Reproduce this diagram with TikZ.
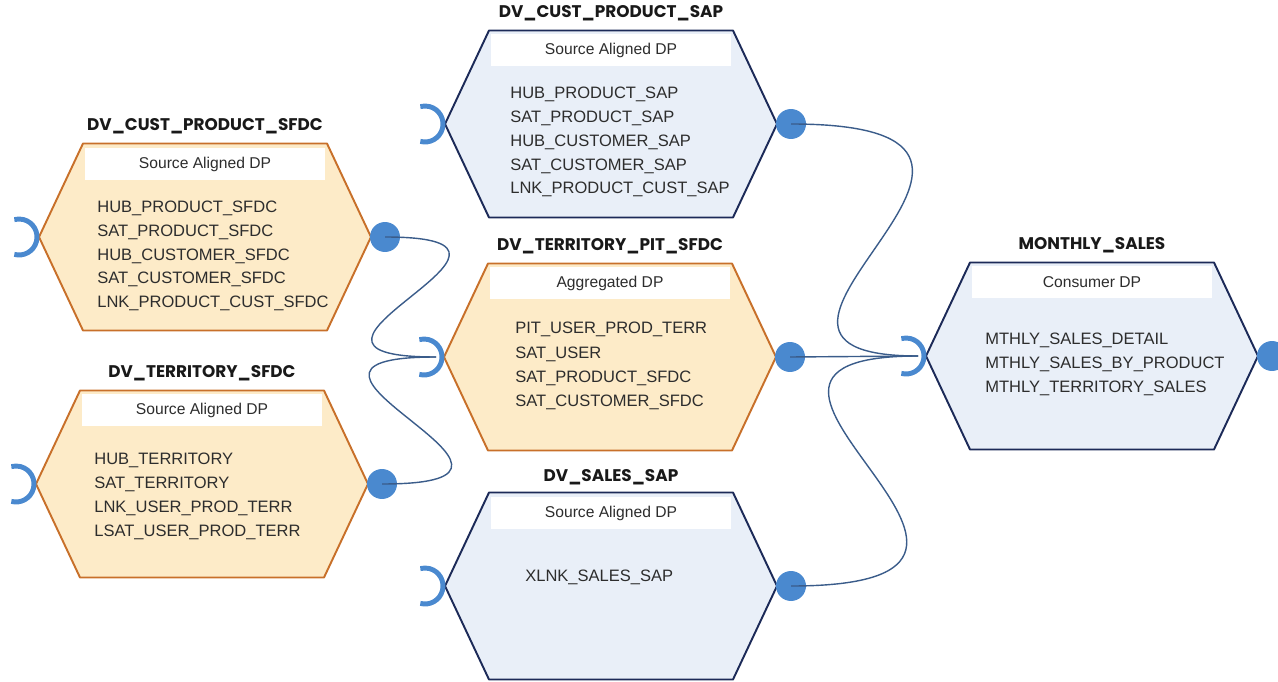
\documentclass[tikz,border=0pt]{standalone}
\usepackage{fontspec}
\setmainfont{Liberation Sans}
\newfontfamily\titlefont{Poppins}

\definecolor{orangeFill}{RGB}{253,235,200}
\definecolor{orangeLine}{RGB}{200,112,42}
\definecolor{blueFill}{RGB}{233,239,248}
\definecolor{navyLine}{RGB}{28,42,88}
\definecolor{portBlue}{RGB}{74,137,207}
\definecolor{linkBlue}{RGB}{58,92,138}
\definecolor{titleText}{RGB}{25,25,25}
\definecolor{itemText}{RGB}{45,45,45}

\begin{document}
\begin{tikzpicture}[
  x=0.02cm, y=-0.02cm,
  font=\fontsize{9.4}{11}\selectfont,
  sfdchex/.style={draw=orangeLine, fill=orangeFill, line width=1.1pt, line join=round},
  saphex/.style={draw=navyLine, fill=blueFill, line width=1.1pt, line join=round},
  dptitle/.style={font=\titlefont\bfseries\fontsize{9.6}{11}\selectfont, text=titleText},
  dpbox/.style={fill=white, minimum width=4.8cm, minimum height=0.66cm, inner sep=0pt,
    font=\fontsize{8.9}{10}\selectfont, text=itemText},
  item/.style={anchor=base west, inner sep=0pt, text=itemText},
  ball/.style={circle, fill=portBlue, minimum size=0.6cm, inner sep=0pt},
  socket/.style={draw=portBlue, line width=2.8pt},
  link/.style={draw=linkBlue, line width=0.8pt}
]
\useasboundingbox (0,0) rectangle (1278,682);

% Hexagons with output ball and input socket
\foreach \n/\cx/\cy/\s in {cps/205/237/sfdchex, ts/202/484/sfdchex, cpsap/611/124/saphex,
    pit/610/357/sfdchex, sales/611/586/saphex, ms/1092/356/saphex} {
  \draw[\s] (\cx-166,\cy) -- (\cx-122,\cy-93.5) -- (\cx+122,\cy-93.5) -- (\cx+166,\cy)
    -- (\cx+122,\cy+93.5) -- (\cx-122,\cy+93.5) -- cycle;
  \draw[socket] (\cx-186,\cy) ++(105:18) arc[start angle=105, end angle=-105, radius=18];
  \coordinate (\n-in) at (\cx-174,\cy);
  \node[ball] (\n-out) at (\cx+180,\cy) {};
}

% Titles
\node[dptitle] (cps-title) at (205,126) {DV\_CUST\_PRODUCT\_SFDC};
\node[dptitle] (ts-title) at (202,373) {DV\_TERRITORY\_SFDC};
\node[dptitle] (cpsap-title) at (611,13) {DV\_CUST\_PRODUCT\_SAP};
\node[dptitle] (pit-title) at (610,246) {DV\_TERRITORY\_PIT\_SFDC};
\node[dptitle] (sales-title) at (611,477) {DV\_SALES\_SAP};
\node[dptitle] (ms-title) at (1092,245) {MONTHLY\_SALES};

% Type boxes
\node[dpbox] (cps-type) at (205,164) {Source Aligned DP};
\node[dpbox] (ts-type) at (202,410) {Source Aligned DP};
\node[dpbox] (cpsap-type) at (611,50) {Source Aligned DP};
\node[dpbox] (pit-type) at (610,283) {Aggregated DP};
\node[dpbox] (sales-type) at (611,513) {Source Aligned DP};
\node[dpbox] (ms-type) at (1092,282) {Consumer DP};

% Tables inside each product
\foreach \t [count=\i from 0] in {HUB\_PRODUCT\_SFDC, SAT\_PRODUCT\_SFDC, HUB\_CUSTOMER\_SFDC,
    SAT\_CUSTOMER\_SFDC, LNK\_PRODUCT\_CUST\_SFDC}
  \node[item] (cps-t\i) at (97,213+\i*23.6) {\t};
\foreach \t [count=\i from 0] in {HUB\_TERRITORY, SAT\_TERRITORY, LNK\_USER\_PROD\_TERR,
    LSAT\_USER\_PROD\_TERR}
  \node[item] (ts-t\i) at (94,464+\i*24) {\t};
\foreach \t [count=\i from 0] in {HUB\_PRODUCT\_SAP, SAT\_PRODUCT\_SAP, HUB\_CUSTOMER\_SAP,
    SAT\_CUSTOMER\_SAP, LNK\_PRODUCT\_CUST\_SAP}
  \node[item] (cpsap-t\i) at (510,99+\i*23.7) {\t};
\foreach \t [count=\i from 0] in {PIT\_USER\_PROD\_TERR, SAT\_USER, SAT\_PRODUCT\_SFDC,
    SAT\_CUSTOMER\_SFDC}
  \node[item] (pit-t\i) at (515,334+\i*24) {\t};
\node[item] (sales-t0) at (525,581) {XLNK\_SALES\_SAP};
\foreach \t [count=\i from 0] in {MTHLY\_SALES\_DETAIL, MTHLY\_SALES\_BY\_PRODUCT,
    MTHLY\_TERRITORY\_SALES}
  \node[item] (ms-t\i) at (985,344+\i*24) {\t};

% Connectors (ball -> socket)
\draw[link] (cps-out.center) .. controls +(200,0) and +(-200,0) .. (pit-in);
\draw[link] (ts-out.center) .. controls +(215,0) and +(-210,0) .. (pit-in);
\draw[link] (cpsap-out.center) .. controls +(320,0) and +(-250,0) .. (ms-in);
\draw[link] (pit-out.center) -- (ms-in);
\draw[link] (sales-out.center) .. controls +(315,0) and +(-270,0) .. (ms-in);

\end{tikzpicture}
\end{document}
